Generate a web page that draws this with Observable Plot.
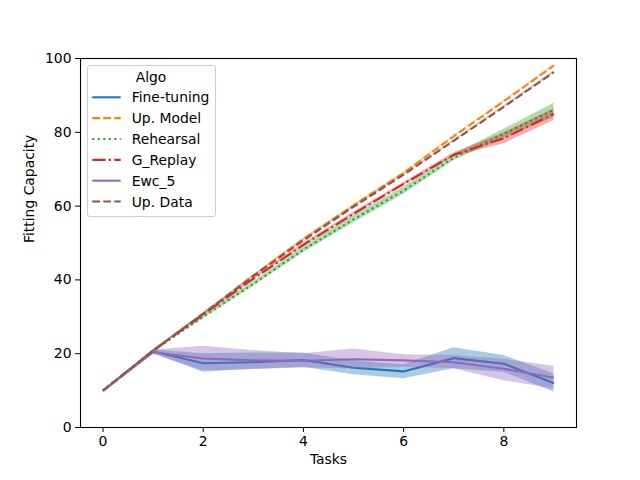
<!DOCTYPE html>
<html><head><meta charset="utf-8">
<script src="https://cdn.jsdelivr.net/npm/d3@7"></script>
<script src="https://cdn.jsdelivr.net/npm/@observablehq/plot@0.6"></script>
<style>
body{margin:0;background:#fff;}
#wrap{position:relative;width:640px;height:480px;font-family:"DejaVu Sans",sans-serif;}
#legend{position:absolute;left:87px;top:65px;}
</style>
</head><body><div id="wrap"></div>
<script>
const tasks = [0,1,2,3,4,5,6,7,8,9];
const algos = ["Fine-tuning","Up. Model","Rehearsal","G_Replay","Ewc_5","Up. Data"];
const xTicks = [0,2,4,6,8];
const yTicks = [0,20,40,60,80,100];

const ftMean = [10, 20.6, 17.4, 17.7, 18.3, 16.2, 15.2, 18.8, 17.3, 12.0];
const ftLo   = [10, 20.1, 15.0, 15.8, 16.3, 14.3, 13.2, 15.9, 15.0, 9.6];
const ftHi   = [10, 21.1, 20.0, 20.2, 20.2, 18.0, 17.0, 21.6, 19.5, 14.5];

const umMean = [10, 20.8, 30.8, 41.2, 51.1, 60.2, 69.0, 78.9, 88.4, 98.1];
const umLo   = [10, 20.6, 30.6, 41.0, 50.9, 60.0, 68.8, 78.7, 88.2, 97.8];
const umHi   = [10, 21.0, 31.0, 41.4, 51.3, 60.4, 69.2, 79.1, 88.6, 98.4];

const rhMean = [10, 20.8, 30.0, 38.9, 48.2, 56.4, 64.2, 73.1, 79.6, 86.1];
const rhLo   = [10, 20.6, 29.5, 38.3, 47.4, 55.4, 63.2, 72.3, 78.4, 84.1];
const rhHi   = [10, 21.0, 30.5, 39.5, 49.0, 57.4, 65.2, 73.9, 80.8, 87.9];

const grMean = [10, 20.8, 30.6, 40.3, 49.5, 57.9, 66.0, 73.9, 78.4, 85.0];
const grLo   = [10, 20.6, 30.2, 39.9, 49.1, 57.5, 65.6, 73.4, 76.9, 83.2];
const grHi   = [10, 21.0, 31.0, 40.7, 49.9, 58.3, 66.4, 74.4, 79.8, 86.4];

const ewMean = [10, 20.4, 18.7, 18.2, 18.1, 18.5, 18.2, 17.7, 15.9, 13.5];
const ewLo   = [10, 19.8, 15.4, 15.7, 16.1, 15.9, 16.3, 15.9, 12.7, 10.5];
const ewHi   = [10, 21.0, 22.0, 20.9, 20.0, 21.3, 19.7, 19.5, 18.5, 16.6];

const udMean = [10, 20.8, 30.8, 41.0, 50.7, 59.8, 68.5, 77.7, 86.9, 96.3];
const udLo   = [10, 20.6, 30.6, 40.8, 50.5, 59.6, 68.3, 77.5, 86.6, 96.0];
const udHi   = [10, 21.0, 31.0, 41.2, 50.9, 60.0, 68.7, 77.9, 87.2, 96.6];

const colors = ["#1f77b4","#ff7f0e","#2ca02c","#d62728","#9467bd","#8c564b"];
const dashes = [null,"7.7,3.3","2.1,3.4","13.3,3.3,2.1,3.3",null,"7.7,3.3"];

const series = [
  [ftMean, ftLo, ftHi], [umMean, umLo, umHi], [rhMean, rhLo, rhHi],
  [grMean, grLo, grHi], [ewMean, ewLo, ewHi], [udMean, udLo, udHi]
];

const marks = [];
series.forEach((s, i) => {
  const rows = tasks.map((t, j) => ({algo: algos[i], task: t, mean: s[0][j], lo: s[1][j], hi: s[2][j]}));
  marks.push(Plot.areaY(rows, {x: "task", y1: "lo", y2: "hi", fill: colors[i], fillOpacity: 0.38}));
  const opts = {x: "task", y: "mean", stroke: colors[i], strokeWidth: 2.08, strokeLinecap: "butt"};
  if (dashes[i]) opts.strokeDasharray = dashes[i];
  marks.push(Plot.line(rows, opts));
});

const chart = Plot.plot({
  width: 640, height: 480,
  marginLeft: 80, marginRight: 64, marginTop: 58, marginBottom: 53,
  style: {fontSize: "13.9px", fontFamily: "DejaVu Sans", color: "black", background: "white", overflow: "visible"},
  x: {domain: [-0.45, 9.45]},
  y: {domain: [0, 100]},
  marks: [
    ...marks,
    Plot.frame({stroke: "black", strokeWidth: 1.1}),
    Plot.axisX({ticks: xTicks, tickSize: 5, tickPadding: 4, label: null, tickFormat: d => String(d), fontSize: 13.9}),
    Plot.axisY({ticks: yTicks, tickSize: 5, tickPadding: 4, label: null, tickFormat: d => String(d), fontSize: 13.9}),
    Plot.text(["Tasks"], {frameAnchor: "bottom", dy: 36, text: d => d, fontSize: 13.9}),
    Plot.text(["Fitting Capacity"], {frameAnchor: "left", dx: -51, rotate: -90, text: d => d, fontSize: 13.9})
  ]
});
const wrap = document.getElementById("wrap");
wrap.appendChild(chart);

// legend
const ns = "http://www.w3.org/2000/svg";
const lw = 129, lh = 152;
const leg = document.createElementNS(ns, "svg");
leg.setAttribute("id", "legend");
leg.setAttribute("width", lw); leg.setAttribute("height", lh);
const box = document.createElementNS(ns, "rect");
box.setAttribute("x", 0.5); box.setAttribute("y", 0.5);
box.setAttribute("width", lw - 1); box.setAttribute("height", lh - 1);
box.setAttribute("rx", 2.5);
box.setAttribute("fill", "rgba(255,255,255,0.8)");
box.setAttribute("stroke", "#cccccc");
leg.appendChild(box);
function addText(x, y, s, anchor) {
  const t = document.createElementNS(ns, "text");
  t.setAttribute("x", x); t.setAttribute("y", y);
  t.setAttribute("font-family", "DejaVu Sans");
  t.setAttribute("font-size", "13.9px");
  t.setAttribute("dominant-baseline", "central");
  t.setAttribute("text-anchor", anchor);
  t.textContent = s;
  leg.appendChild(t);
}
addText(64, 11.7, "Algo", "middle");
algos.forEach((a, i) => {
  const cy = 32.3 + i * 20.85;
  const l = document.createElementNS(ns, "line");
  l.setAttribute("x1", 5.3); l.setAttribute("x2", 33.7);
  l.setAttribute("y1", cy); l.setAttribute("y2", cy);
  l.setAttribute("stroke", colors[i]);
  l.setAttribute("stroke-width", 2.08);
  if (dashes[i]) l.setAttribute("stroke-dasharray", dashes[i]);
  leg.appendChild(l);
  addText(44.7, cy, a, "start");
});
wrap.appendChild(leg);
</script>
</body></html>
